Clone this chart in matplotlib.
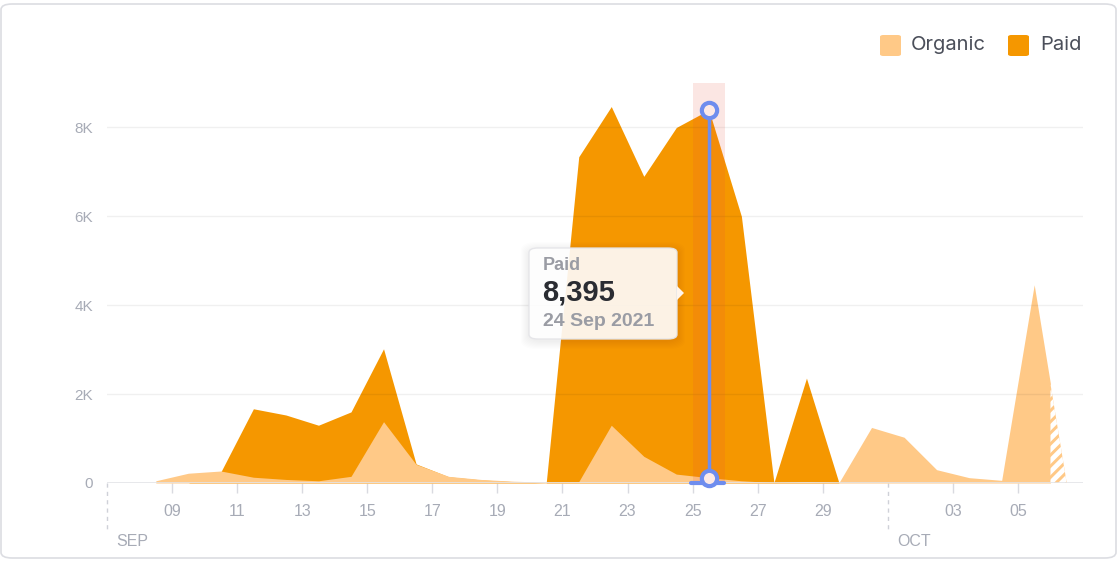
import numpy as np
import pandas as pd
import matplotlib
matplotlib.use("Agg")
import matplotlib.pyplot as plt
import matplotlib.dates as mdates
from matplotlib.patches import FancyBboxPatch, Polygon

# daily values, Sep 8 .. Oct 6 2021 (points sit mid-day)
days = pd.date_range("2021-09-08 12:00", "2021-10-06 12:00", freq="D")
organic = [50, 220, 270, 130, 80, 50, 150, 1380, 420, 150, 80, 40, 20, 30,
           1300, 600, 200, 120, 50, 10, 30, 10, 1250, 1030, 300, 120, 60,
           4460, 0]
paid = [0, 0, 250, 1670, 1530, 1300, 1600, 3020, 430, 140, 70, 30, 0, 7340,
        8470, 6900, 8000, 8395, 6000, 10, 2360, 0, 0, 0, 0, 0, 0, 0, 0]
yticks = [0, 2000, 4000, 6000, 8000]
ytick_labels = ["0", "2K", "4K", "6K", "8K"]

C_ORG = "#FFC987"
C_PAID = "#F59700"
C_TXT = "#A7ABB6"
C_BLUE = "#6E8DEE"

plt.rcParams["font.family"] = ["Liberation Sans", "DejaVu Sans"]
plt.rcParams["hatch.linewidth"] = 3.5

fig = plt.figure(figsize=(11.2, 5.64), dpi=100)
ax = fig.add_axes([107 / 1120, 81 / 564, 976 / 1120, 400 / 564])

x = mdates.date2num(days)
org = np.array(organic, dtype=float)
pd_ = np.array(paid, dtype=float)

ax.fill_between(x, 0, pd_, color=C_PAID, lw=0, zorder=2)

# organic: solid up to the start of the last (incomplete) day, hatched after
cut = mdates.date2num(pd.Timestamp("2021-10-06"))
xs = np.append(x[x < cut], cut)
ys = np.append(org[x < cut], np.interp(cut, x, org))
ax.fill_between(xs, 0, ys, color=C_ORG, lw=0, zorder=3)
xh = np.append(cut, x[x >= cut])
yh = np.append(np.interp(cut, x, org), org[x >= cut])
ax.fill_between(xh, 0, yh, facecolor=C_ORG, edgecolor="white", hatch="///",
                lw=0, zorder=3)

# grid
for v in yticks[1:]:
    ax.axhline(v, color="black", alpha=0.06, lw=1, zorder=4)
ax.axhline(0, color="#E3E4E8", lw=1.2, zorder=4)

ax.set_xlim(mdates.date2num(pd.Timestamp("2021-09-07")),
            mdates.date2num(pd.Timestamp("2021-10-07")))
ax.set_ylim(0, 9000)
for s in ax.spines.values():
    s.set_visible(False)

ax.set_yticks(yticks)
ax.set_yticklabels(ytick_labels)
ax.tick_params(axis="y", length=0, pad=10, labelsize=11, labelcolor=C_TXT)

tick_days = list(pd.date_range("2021-09-09", "2021-09-29", freq="2D")) + \
    [pd.Timestamp("2021-10-03"), pd.Timestamp("2021-10-05")]
ax.set_xticks(mdates.date2num(tick_days))
ax.set_xticklabels([d.strftime("%d") for d in tick_days])
ax.tick_params(axis="x", length=7, width=1, color="#D9DAE0", pad=8,
               labelsize=11.5, labelcolor=C_TXT)

# month separators
trans = ax.get_xaxis_transform()
for m, lab in [("2021-09-07", "SEP"), ("2021-10-01", "OCT")]:
    mx = mdates.date2num(pd.Timestamp(m))
    ax.plot([mx, mx], [0, -0.12], transform=trans, color="#CFD1D8", lw=1,
            ls=(0, (3, 3)), clip_on=False)
    ax.text(mx + 0.3, -0.145, lab, transform=trans, color=C_TXT, fontsize=11.5,
            ha="left", va="center")

# hover highlight on 25 Sep
hx = x[17]
ax.axvspan(hx - 0.5, hx + 0.5, color="#E8503A", alpha=0.14, lw=0, zorder=5)
ax.plot([hx, hx], [org[17], pd_[17]], color=C_BLUE, lw=2.5, zorder=6)
ax.plot([hx - 0.55, hx + 0.45], [0, 0], color=C_BLUE, lw=3, zorder=6,
        solid_capstyle="round", clip_on=False)
ax.plot([hx, hx], [pd_[17], org[17]], ls="none", marker="o", ms=11,
        mfc="#FCE9E6", mec=C_BLUE, mew=3, zorder=7, clip_on=False)

# tooltip (soft shadow + box)
for g in range(1, 9):
    sh = FancyBboxPatch(((529 - g) / 1120, 1 - (341 + g) / 564),
                        (148 + 2 * g) / 1120, (91 + 2 * g) / 564,
                        boxstyle="round,pad=0,rounding_size=0.014",
                        transform=fig.transFigure, facecolor="black",
                        alpha=0.008, lw=0, zorder=9)
    fig.patches.append(sh)
tip = FancyBboxPatch((529 / 1120, 1 - 339 / 564), 148 / 1120, 91 / 564,
                     boxstyle="round,pad=0,rounding_size=0.008",
                     transform=fig.transFigure, facecolor="white", alpha=0.9,
                     edgecolor="#E4E4E8", lw=1, zorder=10)
fig.patches.append(tip)
arrow = Polygon([(677 / 1120, 1 - 286 / 564), (684 / 1120, 1 - 293 / 564),
                 (677 / 1120, 1 - 300 / 564)], closed=True,
                transform=fig.transFigure, facecolor="#FFF5EB", lw=0,
                zorder=10)
fig.patches.append(arrow)
tfont = ["Liberation Sans", "DejaVu Sans"]
fig.text(543 / 1120, 1 - 265 / 564, "Paid", fontsize=13, color="#9A9CA4",
         fontweight="bold", family=tfont, va="center", zorder=11)
fig.text(542 / 1120, 1 - 293 / 564, "8,395", fontsize=21, color="#2A2C32",
         fontweight="bold", family=tfont, va="center", zorder=11)
fig.text(543 / 1120, 1 - 322 / 564, "24 Sep 2021", fontsize=14,
         color="#9A9CA4", fontweight="bold", family=tfont, va="center",
         zorder=11)

# legend
for lx, tx, col, lab in [(880, 911, C_ORG, "Organic"),
                         (1008, 1040, C_PAID, "Paid")]:
    sq = FancyBboxPatch((lx / 1120, 1 - 56 / 564), 21 / 1120, 21 / 564,
                        boxstyle="round,pad=0,rounding_size=0.003",
                        transform=fig.transFigure, facecolor=col, lw=0)
    fig.patches.append(sq)
    fig.text(tx / 1120, 1 - 45 / 564, lab, fontsize=14.5, color="#4B4F5A",
             family=["Inter", "DejaVu Sans"], va="center")

# card border
card = FancyBboxPatch((1 / 1120, 6 / 564), 1115 / 1120, 554 / 564,
                      boxstyle="round,pad=0,rounding_size=0.01",
                      transform=fig.transFigure, facecolor="none",
                      edgecolor="#DCDDE2", lw=1.2)
fig.patches.append(card)

fig.savefig("out.png", dpi=100)
